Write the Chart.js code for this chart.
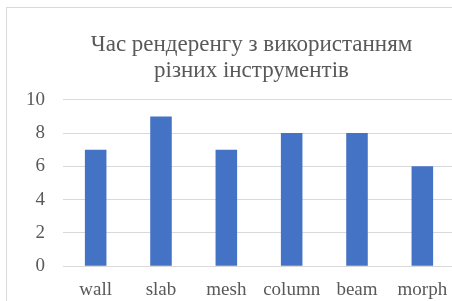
<!DOCTYPE html>
<html>
<head>
<meta charset="utf-8">
<script src="https://cdn.jsdelivr.net/npm/chart.js@4"></script>
<style>
  html, body { margin: 0; padding: 0; background: #fff; overflow: hidden; }
  #frame { position: absolute; left: 6px; top: 7px; width: 470px; height: 310px; border: 1px solid #d9d9d9; }
  #wrap { position: absolute; left: 0; top: 0; width: 477px; height: 305px; }
</style>
</head>
<body>
<div id="frame"></div>
<div id="wrap"><canvas id="chart" width="477" height="305"></canvas></div>
<script>
// data
let categories = ["wall", "slab", "mesh", "column", "beam", "morph"];
let renderTime = [7, 9, 7, 8, 8, 6];
let yTicks = [0, 2, 4, 6, 8, 10];

let grey = "#595959";
let serif = "'Liberation Serif', 'Times New Roman', serif";

let graphTarget = document.getElementById("chart");
let graph = new Chart(graphTarget, {
  type: "bar",
  data: {
    labels: categories,
    datasets: [
      {
        data: renderTime,
        backgroundColor: "#4472c4",
        barPercentage: 0.66,
        categoryPercentage: 0.5,
      },
    ],
  },
  options: {
    responsive: false,
    animation: false,
    layout: { padding: { left: 26, right: 0, top: 31, bottom: 0 } },
    plugins: {
      legend: { display: false },
      tooltip: { enabled: false },
      title: {
        display: true,
        text: ["Час рендеренгу з використанням", "різних інструментів"],
        color: grey,
        font: { family: serif, size: 23, weight: "normal", lineHeight: 1.17 },
        padding: { top: 0, bottom: 15 },
      },
    },
    scales: {
      x: {
        grid: { display: false },
        border: { display: false },
        ticks: { color: grey, font: { family: serif, size: 19 }, padding: 4 },
      },
      y: {
        min: yTicks[0],
        max: yTicks[yTicks.length - 1],
        afterBuildTicks: (axis) => {
          axis.ticks = yTicks.map((v) => ({ value: v }));
        },
        afterFit: (axis) => {
          axis.width = 37;
        },
        grid: { color: "#d9d9d9", lineWidth: 1, drawTicks: false },
        border: { display: false },
        ticks: { color: grey, font: { family: serif, size: 19 }, padding: 18 },
      },
      // empty space on the right, part of the frame is cut off there
      yRight: {
        position: "right",
        grid: { display: false },
        border: { display: false },
        ticks: { display: false },
        afterFit: (axis) => {
          axis.width = 22;
        },
      },
    },
  },
});
</script>
</body>
</html>
